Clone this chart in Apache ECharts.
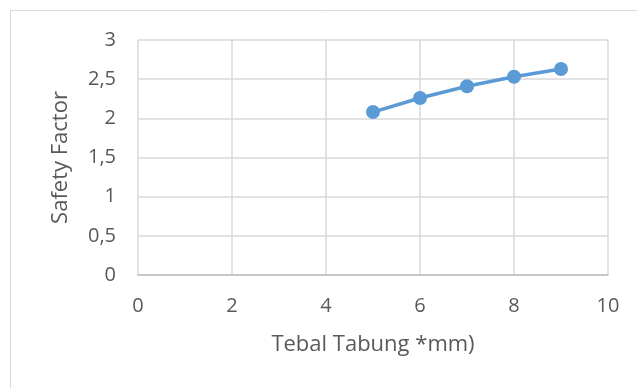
<!DOCTYPE html>
<html><head><meta charset="utf-8">
<script src="https://cdn.jsdelivr.net/npm/echarts@6/dist/echarts.min.js"></script>
<style>html,body{margin:0;padding:0;background:#fff}#c{width:637px;height:388px}</style>
</head><body><div id="c"></div>
<script>
const xValues = [5, 6, 7, 8, 9];
const yValues = [2.08, 2.26, 2.41, 2.53, 2.63];
const xName = 'Tebal Tabung *mm)';
const yName = 'Safety Factor';

const chart = echarts.init(document.getElementById('c'), null, {renderer: 'canvas'});
const fmt = v => String(v).replace('.', ',');
chart.setOption({
  animation: false,
  backgroundColor: '#fff',
  graphic: [{type: 'rect', shape: {x: 10.5, y: 10.5, width: 640, height: 400}, style: {fill: 'none', stroke: '#d9d9d9', lineWidth: 1}}],
  grid: {left: 138, right: 29, top: 40, bottom: 113, containLabel: false},
  xAxis: {
    type: 'value', min: 0, max: 10, interval: 2,
    name: xName, nameLocation: 'middle', nameGap: 59,
    nameTextStyle: {color: '#595959', fontSize: 22, fontFamily: 'Open Sans'},
    axisLine: {show: true, lineStyle: {color: '#bfbfbf', width: 1.5}},
    axisTick: {show: false},
    axisLabel: {color: '#595959', fontSize: 20, fontFamily: 'Open Sans', margin: 21, formatter: fmt},
    splitLine: {show: true, lineStyle: {color: '#d9d9d9', width: 1.5}}
  },
  yAxis: {
    type: 'value', min: 0, max: 3, interval: 0.5,
    name: yName, nameLocation: 'middle', nameGap: 66, nameRotate: 90,
    nameTextStyle: {color: '#595959', fontSize: 22, fontFamily: 'Open Sans'},
    axisLine: {show: false},
    axisTick: {show: false},
    axisLabel: {color: '#595959', fontSize: 20, fontFamily: 'Open Sans', margin: 22, formatter: fmt},
    splitLine: {show: true, lineStyle: {color: '#d9d9d9', width: 1.5}}
  },
  series: [{
    type: 'line',
    data: xValues.map((x, i) => [x, yValues[i]]),
    symbol: 'circle', symbolSize: 14,
    lineStyle: {color: '#5b9bd5', width: 3.5},
    itemStyle: {color: '#5b9bd5'}
  }]
});
</script></body></html>
